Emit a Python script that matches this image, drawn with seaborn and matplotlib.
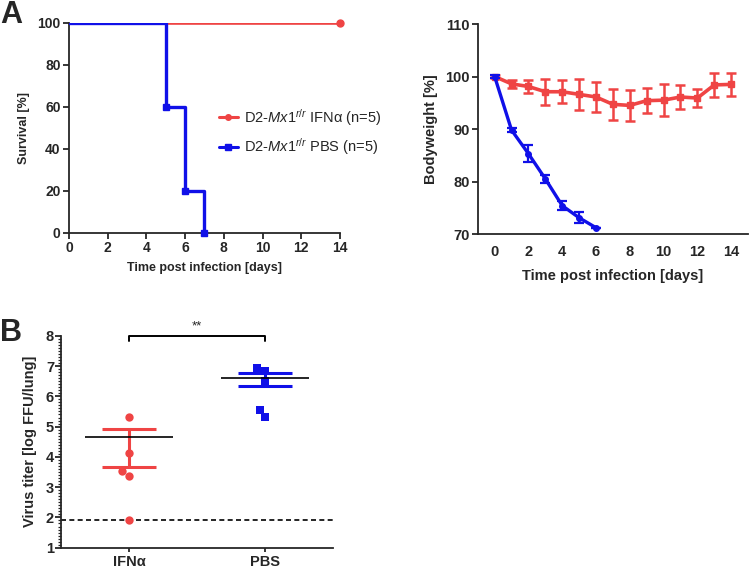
import numpy as np
import pandas as pd
import matplotlib
matplotlib.use("Agg")
import matplotlib.pyplot as plt
from matplotlib.ticker import MultipleLocator
from matplotlib.lines import Line2D
import seaborn as sns

# Survival, bodyweight and lung virus titer after IFNa / PBS treatment

RED = "#EF4444"
BLUE = "#1010E8"

# --- data ---
surv_days_pbs = [0, 5, 6, 7]
surv_pbs = [100, 60, 20, 0]
surv_days_ifn = [0, 14]
surv_ifn = [100, 100]

bw_days_ifn = list(range(0, 15))
bw_ifn = [100.0, 98.6, 98.1, 97.1, 97.1, 96.6, 96.1, 94.7, 94.5, 95.4, 95.5, 96.1, 95.9, 98.4, 98.5]
bw_ifn_err = [0.2, 0.7, 1.2, 2.5, 2.2, 2.9, 2.9, 3.0, 2.9, 2.4, 3.0, 2.2, 1.8, 2.3, 2.2]
bw_days_pbs = list(range(0, 7))
bw_pbs = [100.0, 89.8, 85.3, 80.5, 75.4, 73.1, 71.2]
bw_pbs_err = [0.2, 0.3, 1.6, 0.8, 0.8, 1.0, 0.0]

titer_groups = ["IFNα", "PBS"]
titer_ifn = [5.31, 4.12, 3.54, 3.38, 1.92]
titer_pbs = [6.84, 6.94, 6.50, 5.55, 5.32]
titer_line = [4.65, 6.59]
titer_err_low = [3.67, 6.34]
titer_err_high = [4.93, 6.77]
detect_limit = 1.92

sns.set_theme(style="ticks")
plt.rcParams["font.family"] = ["Liberation Sans", "DejaVu Sans"]
plt.rcParams["mathtext.fontset"] = "custom"
plt.rcParams["mathtext.it"] = "Liberation Sans:italic"
plt.rcParams["mathtext.rm"] = "Liberation Sans"
plt.rcParams["axes.linewidth"] = 1.3
plt.rcParams["xtick.major.width"] = 1.3
plt.rcParams["ytick.major.width"] = 1.3
plt.rcParams["axes.labelweight"] = "bold"


def bold_ticks(ax):
    for lab in ax.get_xticklabels() + ax.get_yticklabels():
        lab.set_fontweight("bold")


fig = plt.figure(figsize=(7.5, 5.68), dpi=100)

# --- A left: survival ---
ax1 = fig.add_axes([0.092, 0.590, 0.3613, 0.3697])
ax1.step(surv_days_ifn, surv_ifn, where="post", color=RED, lw=1.9, zorder=2)
ax1.plot(surv_days_ifn[-1:], surv_ifn[-1:], "o", color=RED, ms=5, clip_on=False, zorder=3)
ax1.step(surv_days_pbs, surv_pbs, where="post", color=BLUE, lw=2.4, zorder=4)
ax1.plot(surv_days_pbs[1:], surv_pbs[1:], "s", color=BLUE, ms=5, clip_on=False, zorder=5)
ax1.set_xlim(0, 14)
ax1.set_ylim(0, 100)
ax1.set_xticks(range(0, 15, 2))
ax1.set_yticks(range(0, 101, 20))
ax1.tick_params(labelsize=10, length=4, pad=2)
bold_ticks(ax1)
ax1.set_xlabel("Time post infection [days]", fontsize=9, labelpad=5)
ax1.set_ylabel("Survival [%]", fontsize=9, labelpad=5)
sns.despine(ax=ax1)
handles = [
    Line2D([], [], color=RED, lw=2.2, marker="o", ms=4),
    Line2D([], [], color=BLUE, lw=2.2, marker="s", ms=4),
]
labels = [r"D2-$\mathit{Mx1}^{r/r}$ IFNα (n=5)", r"D2-$\mathit{Mx1}^{r/r}$ PBS (n=5)"]
ax1.legend(handles, labels, loc="center left", bbox_to_anchor=(0.505, 0.48),
           frameon=False, handlelength=1.3, handletextpad=0.45, labelspacing=0.6,
           prop={"size": 10.5, "weight": "normal"})

# --- A right: bodyweight ---
ax2 = fig.add_axes([0.637, 0.588, 0.3604, 0.3697])
ax2.errorbar(bw_days_ifn, bw_ifn, yerr=bw_ifn_err, color=RED, lw=2.6, marker="s", ms=4,
             elinewidth=1.8, capsize=3.5, capthick=1.8, zorder=3)
ax2.errorbar(bw_days_pbs, bw_pbs, yerr=bw_pbs_err, color=BLUE, lw=2.4, marker="o", ms=4,
             elinewidth=1.6, capsize=3.5, capthick=1.6, zorder=4)
ax2.set_xlim(-1, 15)
ax2.set_ylim(70, 110)
ax2.set_xticks(range(0, 15, 2))
ax2.set_yticks(range(70, 111, 10))
ax2.tick_params(axis="x", length=0, pad=8, labelsize=10.5)
ax2.tick_params(axis="y", length=4, pad=2, labelsize=10.5)
bold_ticks(ax2)
ax2.set_xlabel("Time post infection [days]", fontsize=10.5, labelpad=7)
ax2.set_ylabel("Bodyweight [%]", fontsize=10.5, labelpad=5)
sns.despine(ax=ax2)

# --- B: virus titer ---
ax3 = fig.add_axes([0.0813, 0.0357, 0.3627, 0.3732])
df_ifn = pd.DataFrame({"group": "IFNα", "titer": titer_ifn})
df_pbs = pd.DataFrame({"group": "PBS", "titer": titer_pbs})
ax3.axhline(detect_limit, color="black", lw=1.2, ls=(0, (3, 2)), zorder=1)
sns.swarmplot(data=df_ifn, x="group", y="titer", order=titer_groups, color=RED,
              marker="o", size=6, ax=ax3, zorder=4)
sns.swarmplot(data=df_pbs, x="group", y="titer", order=titer_groups, color=BLUE,
              marker="s", size=6, ax=ax3, zorder=4)
for i, c in enumerate([RED, BLUE]):
    ax3.vlines(i, titer_err_low[i], titer_err_high[i], color=c, lw=2.2, zorder=3)
    ax3.hlines([titer_err_low[i], titer_err_high[i]], i - 0.2, i + 0.2, color=c, lw=2.2, zorder=3)
    ax3.hlines(titer_line[i], i - 0.32, i + 0.32, color="black", lw=1.2, zorder=5)
# significance bracket
ax3.plot([0, 0, 1, 1], [7.82, 8.0, 8.0, 7.82], color="black", lw=1.4, clip_on=False)
ax3.text(0.5, 8.12, "**", ha="center", va="bottom", fontsize=9.5)
ax3.set_xlim(-0.5, 1.5)
ax3.set_ylim(1, 8)
ax3.set_yticks(range(1, 9))
ax3.yaxis.set_minor_locator(MultipleLocator(0.1))
ax3.tick_params(axis="y", which="minor", length=2.5, width=0.9, left=True)
ax3.tick_params(axis="y", which="major", length=4, pad=1, labelsize=10.5)
ax3.tick_params(axis="x", length=3, pad=2, labelsize=10.5)
bold_ticks(ax3)
ax3.set_xlabel("")
ax3.set_ylabel("Virus titer [log FFU/lung]", fontsize=10.5, labelpad=6)
sns.despine(ax=ax3)

# panel letters
fig.text(0.0, 1.0, "A", fontsize=22, fontweight="bold", va="top", ha="left")
fig.text(0.0, 0.44, "B", fontsize=22, fontweight="bold", va="top", ha="left")

fig.savefig("out.png", dpi=100)
